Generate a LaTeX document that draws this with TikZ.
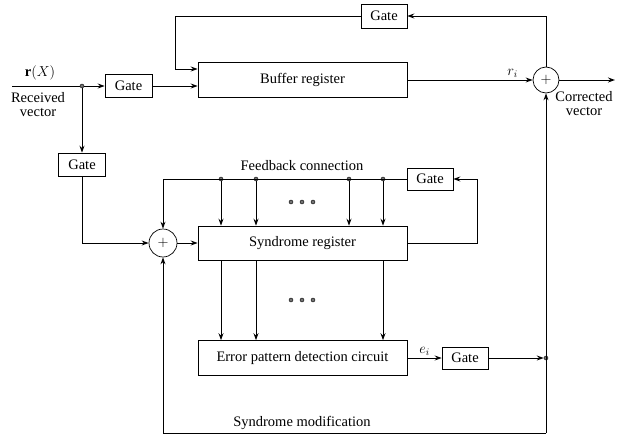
\documentclass[tikz,border=0pt]{standalone}
\usepackage{fontspec}
\setmainfont{Liberation Serif}
\usetikzlibrary{arrows.meta}
\begin{document}
\begin{tikzpicture}[x=1pt,y=-1pt,
  box/.style={draw, line width=0.6pt, inner sep=0pt},
  ln/.style={line width=0.9pt},
  arr/.style={ln, -{Stealth[open,length=7pt,width=5pt]}},
  jdot/.style={circle, fill=black!55, draw=black, line width=0.4pt, inner sep=0pt, minimum size=4pt},
  sum/.style={circle, draw, line width=0.7pt, inner sep=0pt},
  font=\fontsize{14.5}{17}\selectfont]
\useasboundingbox (0,0) rectangle (625,447);
% boxes
\node[box, minimum width=209pt, minimum height=35pt] (buf) at (302.5,80) {Buffer register};
\node[box, minimum width=46pt, minimum height=24pt] (gtop) at (384,16) {Gate};
\node[box, minimum width=47pt, minimum height=23pt] (g1) at (128.5,86) {Gate};
\node[box, minimum width=47pt, minimum height=23pt] (g2) at (82,164.5) {Gate};
\node[box, minimum width=46pt, minimum height=22pt] (g3) at (430,179) {Gate};
\node[box, minimum width=46pt, minimum height=22pt] (g4) at (465,358) {Gate};
\node[box, minimum width=209pt, minimum height=34pt] (syn) at (302.5,243) {Syndrome register};
\node[box, minimum width=209pt, minimum height=35pt] (err) at (302.5,358) {Error pattern detection circuit};
\node[sum, minimum size=26pt] (a1) at (546,80) {$+$};
\node[sum, minimum size=28pt] (a2) at (163,243) {$+$};
% junction dots
\node[jdot] (d1) at (82,86) {};
\node[jdot] (d2) at (546,358) {};
\node[jdot] (f1) at (221,179) {};
\node[jdot] (f2) at (256,179) {};
\node[jdot] (f3) at (349,179) {};
\node[jdot] (f4) at (383,179) {};
\coordinate (in) at (12,86);
\coordinate (out) at (615,80);
\coordinate (tl) at (175,16);
\coordinate (bl) at (175,69);
\coordinate (br) at (546,433);
% labels
\node (rx) at (40,73) {$\mathbf{r}(X)$};
\node[align=center] (rv) at (38,105) {Received\\[-3pt]vector};
\node[align=center] (cv) at (584,104) {Corrected\\[-3pt]vector};
\node (fb) at (302,166) {Feedback connection};
\node (sm) at (302,423) {Syndrome modification};
\foreach \x/\n in {291/e1,302/e2,313/e3} {\node[jdot, minimum size=4pt] (u\n) at (\x,202) {};}
\foreach \x/\n in {291/e1,302/e2,313/e3} {\node[jdot, minimum size=4pt] (l\n) at (\x,300) {};}
% connectors
\draw[ln] (in) -- (d1);
\draw[arr] (d1) -- (g1.west);
\draw[arr] (g1.east) -- (g1.east -| buf.west);
\draw[arr] (a1.north) |- (gtop.east);
\draw[arr] (gtop.west) -- (tl) |- (buf.west |- bl);
\draw[arr] (buf.east) -- node[above, pos=0.84, yshift=-1pt] (ri) {$r_i$} (a1.west);
\draw[arr] (a1.east) -- (out);
\draw[arr] (d1) -- (g2.north);
\draw[arr] (g2.south) |- (a2.west);
\draw[arr] (a2.east) -- (syn.west);
\draw[arr] (syn.east) -- ++(70,0) |- (g3.east);
\draw[arr] (g3.west) -| (a2.north);
\foreach \f in {f1,f2,f3,f4} {\draw[arr] (\f) -- (\f |- syn.north);}
\foreach \f in {f1,f2,f4} {\draw[arr] (\f |- syn.south) -- (\f |- err.north);}
\draw[arr] (err.east) -- node[above, yshift=-1pt] (ei) {$e_i$} (g4.west);
\draw[arr] (g4.east) -- (d2);
\draw[arr] (br) -- (a1.south);
\draw[arr] (br) -| (a2.south);
\end{tikzpicture}
\end{document}
